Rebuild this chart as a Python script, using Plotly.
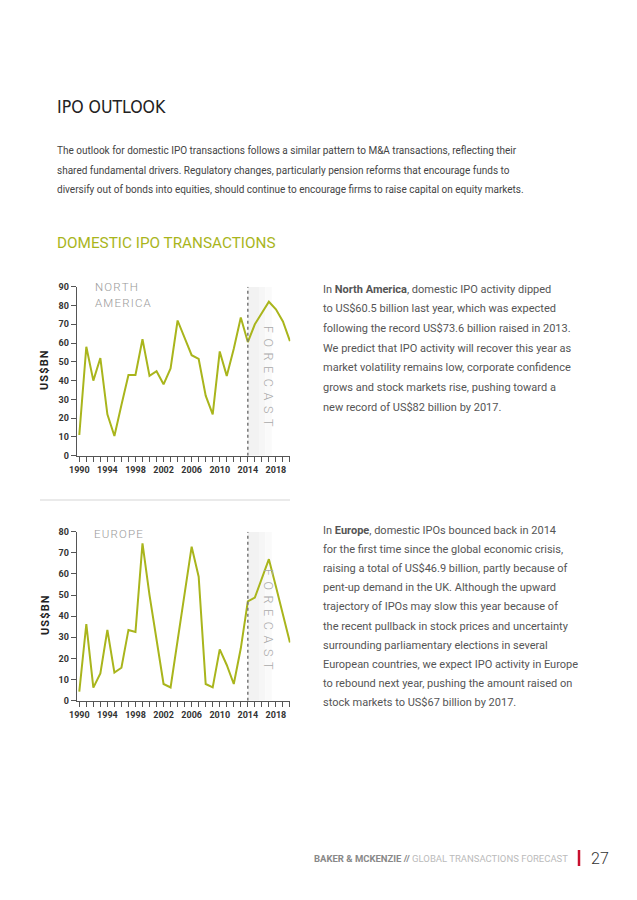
import plotly.graph_objects as go

# page is drawn with an 8px body margin; figure sized to fill the remaining viewport
OFF = 8
W, H = 637 - OFF, 900 - OFF

years = list(range(1990, 2021))
na_values = [11, 58, 40, 52, 22, 10.5, 27, 43, 43, 62, 42.5, 45, 38, 46.5, 72, 62.5, 53.5, 51.5,
             32, 22, 55.5, 42.5, 57, 73.6, 60.5, 70, 76, 82, 78, 71.5, 61]
eu_values = [4.3, 36.3, 6.2, 12.9, 33.5, 13.3, 15.6, 33.5, 32.5, 74.5, 50, 29, 7.9, 6.3, 29, 51,
             72.9, 58.7, 7.9, 6.3, 24.3, 16.9, 7.9, 24.8, 47, 48.8, 57.5, 67, 54, 40, 27.5]
x_tickvals = [1990, 1994, 1998, 2002, 2006, 2010, 2014, 2018]
na_yticks = [0, 10, 20, 30, 40, 50, 60, 70, 80, 90]
eu_yticks = [0, 10, 20, 30, 40, 50, 60, 70, 80]
forecast_start = 2014

intro_lines = [
    "The outlook for domestic IPO transactions follows a similar pattern to M&A transactions, reflecting their",
    "shared fundamental drivers. Regulatory changes, particularly pension reforms that encourage funds to",
    "diversify out of bonds into equities, should continue to encourage firms to raise capital on equity markets.",
]
na_lines = [
    "In <b>North America</b>, domestic IPO activity dipped",
    "to US$60.5 billion last year, which was expected",
    "following the record US$73.6 billion raised in 2013.",
    "We predict that IPO activity will recover this year as",
    "market volatility remains low, corporate confidence",
    "grows and stock markets rise, pushing toward a",
    "new record of US$82 billion by 2017.",
]
eu_lines = [
    "In <b>Europe</b>, domestic IPOs bounced back in 2014",
    "for the first time since the global economic crisis,",
    "raising a total of US$46.9 billion, partly because of",
    "pent-up demand in the UK. Although the upward",
    "trajectory of IPOs may slow this year because of",
    "the recent pullback in stock prices and uncertainty",
    "surrounding parliamentary elections in several",
    "European countries, we expect IPO activity in Europe",
    "to rebound next year, pushing the amount raised on",
    "stock markets to US$67 billion by 2017.",
]

GREEN = "#a9b51c"
SANS = "Roboto, sans-serif"
COND = "DejaVu Sans Condensed, sans-serif"

def px(x):
    return (x - OFF) / W

def py(y):
    return 1 - (y - OFF) / H

fig = go.Figure()
fig.add_trace(go.Scatter(x=years, y=na_values, mode="lines", line=dict(color=GREEN, width=2),
                         xaxis="x", yaxis="y", showlegend=False, hoverinfo="skip"))
fig.add_trace(go.Scatter(x=years, y=eu_values, mode="lines", line=dict(color=GREEN, width=2),
                         xaxis="x2", yaxis="y2", showlegend=False, hoverinfo="skip"))

xr = [1989.63, 2020.05]
xdom = [px(76.7), px(290.3)]
axis_common = dict(showline=True, linecolor="#555", linewidth=1, showgrid=False, zeroline=False,
                   automargin=False, ticks="outside", ticklen=5, tickcolor="#555", tickwidth=1,
                   tickfont=dict(family=SANS, size=9, color="#333", weight=700))

xaxis_cfg = dict(axis_common, range=xr, tickvals=x_tickvals,
                 minor=dict(ticks="outside", ticklen=5, dtick=1, tick0=1990, tickcolor="#555"))

fig.update_layout(
    template="none",
    width=W, height=H, autosize=False,
    margin=dict(l=0, r=0, t=0, b=0, pad=0),
    paper_bgcolor="white", plot_bgcolor="rgba(0,0,0,0)",
    xaxis=dict(xaxis_cfg, domain=xdom, anchor="y"),
    yaxis=dict(axis_common, range=[0, 90], tickvals=na_yticks, domain=[py(455.7), py(286.7)], anchor="x"),
    xaxis2=dict(xaxis_cfg, domain=xdom, anchor="y2"),
    yaxis2=dict(axis_common, range=[0, 80], tickvals=eu_yticks, domain=[py(700.7), py(531.7)], anchor="x2"),
)

# forecast shading and dotted line
for xa, ya, top in [("x", "y", 90), ("x2", "y2", 80)]:
    for x0, x1, c in [(forecast_start, 2015.6, "#f2f2f2"), (2015.6, 2016.5, "#f6f6f6"),
                      (2016.5, 2017.4, "#fafafa")]:
        fig.add_shape(type="rect", xref=xa, yref=ya, x0=x0, x1=x1, y0=0, y1=top,
                      fillcolor=c, line_width=0, layer="below")
    fig.add_shape(type="line", xref=xa, yref=ya, x0=forecast_start, x1=forecast_start, y0=0, y1=top,
                  line=dict(color="#777", width=1.5, dash="dot"))

ann = []
gap = "\u00a0\u200a\u200a"
forecast_txt = gap.join(list("FORECAST"))
for xa, ya, yc in [("x", "y", 42), ("x2", "y2", 38.3)]:
    ann.append(dict(x=2016.87, y=yc, xref=xa, yref=ya, text=forecast_txt, textangle=90, showarrow=False,
                    font=dict(family=SANS, size=12.5, color="#aaa", weight=300)))

hs = "\u200a"
def spaced(s):
    return hs.join(list(s))

title_font = dict(family=SANS, size=11.5, color="#999", weight=300)
ann.append(dict(x=px(93), y=py(287), xref="paper", yref="paper", xanchor="left", yanchor="middle",
                text=spaced("NORTH"), showarrow=False, font=title_font))
ann.append(dict(x=px(93), y=py(302.7), xref="paper", yref="paper", xanchor="left", yanchor="middle",
                text=spaced("AMERICA"), showarrow=False, font=title_font))
ann.append(dict(x=px(91.7), y=py(534), xref="paper", yref="paper", xanchor="left", yanchor="middle",
                text=spaced("EUROPE"), showarrow=False, font=title_font))

for yc in [370, 615]:
    ann.append(dict(x=px(45), y=py(yc), xref="paper", yref="paper", xanchor="center", yanchor="middle",
                    text=spaced("US$BN"), textangle=-90, showarrow=False,
                    font=dict(family=SANS, size=11, color="#222", weight=700)))

# headings
ann.append(dict(x=px(55), y=py(107), xref="paper", yref="paper", xanchor="left", yanchor="middle",
                text="IPO OUTLOOK", showarrow=False,
                font=dict(family=COND, size=17.5, color="#222")))
ann.append(dict(x=px(55), y=py(243.5), xref="paper", yref="paper", xanchor="left", yanchor="middle",
                text="DOMESTIC IPO TRANSACTIONS", showarrow=False,
                font=dict(family=SANS, size=15.3, color=GREEN, weight=400)))

for i, line in enumerate(intro_lines):
    ann.append(dict(x=px(55), y=py(151 + 19.15 * i), xref="paper", yref="paper", xanchor="left",
                    yanchor="middle", text=line, showarrow=False,
                    font=dict(family=SANS, size=10, color="#444")))
for i, line in enumerate(na_lines):
    ann.append(dict(x=px(320.7), y=py(289.3 + 19.67 * i), xref="paper", yref="paper", xanchor="left",
                    yanchor="middle", text=line, showarrow=False,
                    font=dict(family=SANS, size=11, color="#555")))
for i, line in enumerate(eu_lines):
    ann.append(dict(x=px(320.7), y=py(530 + 19.2 * i), xref="paper", yref="paper", xanchor="left",
                    yanchor="middle", text=line, showarrow=False,
                    font=dict(family=SANS, size=11, color="#555")))

# footer
ann.append(dict(x=px(570), y=py(858), xref="paper", yref="paper", xanchor="right", yanchor="middle",
                text="<b>BAKER & MCKENZIE //</b> <span style='color:#bbb'>GLOBAL TRANSACTIONS FORECAST</span>",
                showarrow=False, font=dict(family=SANS, size=9.5, color="#888")))
ann.append(dict(x=px(589), y=py(858), xref="paper", yref="paper", xanchor="left", yanchor="middle",
                text="27", showarrow=False, font=dict(family=SANS, size=16, color="#333", weight=300)))
fig.add_shape(type="line", xref="paper", yref="paper", x0=px(579), x1=px(579), y0=py(850), y1=py(866),
              line=dict(color="#c8102e", width=2.5))
# separator
fig.add_shape(type="line", xref="paper", yref="paper", x0=px(40), x1=px(290), y0=py(500), y1=py(500),
              line=dict(color="#d5d5d5", width=1))

fig.update_layout(annotations=ann)
fig.write_html("out.html")
